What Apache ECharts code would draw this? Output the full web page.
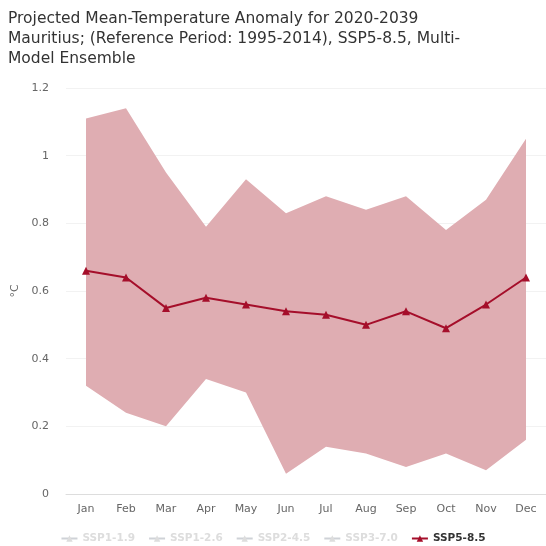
<!DOCTYPE html>
<html>
<head>
<meta charset="utf-8">
<script src="https://cdn.jsdelivr.net/npm/echarts@6/dist/echarts.min.js"></script>
<style>html,body{margin:0;padding:0;background:#fff}#c{width:546px;height:546px}</style>
</head>
<body>
<div id="c"></div>
<script>
const months = ['Jan','Feb','Mar','Apr','May','Jun','Jul','Aug','Sep','Oct','Nov','Dec'];
const meanValues = [0.66,0.64,0.55,0.58,0.56,0.54,0.53,0.50,0.54,0.49,0.56,0.64];
const upperValues = [1.11,1.14,0.95,0.79,0.93,0.83,0.88,0.84,0.88,0.78,0.87,1.05];
const lowerValues = [0.32,0.24,0.20,0.34,0.30,0.06,0.14,0.12,0.08,0.12,0.07,0.16];
const yTicks = [0,0.2,0.4,0.6,0.8,1,1.2];
const legendNames = ['SSP1-1.9','SSP1-2.6','SSP2-4.5','SSP3-7.0','SSP5-8.5'];
const titleText = 'Projected Mean-Temperature Anomaly for 2020-2039\nMauritius; (Reference Period: 1995-2014), SSP5-8.5, Multi-\nModel Ensemble';

const bandDiff = upperValues.map((u,i)=> +(u - lowerValues[i]).toFixed(3));
const font = "'Lucida Grande','DejaVu Sans',sans-serif";
const chart = echarts.init(document.getElementById('c'));
const selected = {};
legendNames.forEach(n => selected[n] = n === 'SSP5-8.5');
const lineColor = '#a50e2a';
const otherSeries = legendNames.slice(0,4).map(n => ({
  name: n, type: 'line', data: [], symbol: 'triangle', itemStyle:{color:'#ccc'}, lineStyle:{color:'#ccc'}
}));
chart.setOption({
  animation: false,
  title: {
    text: titleText, left: 3, top: 4,
    textStyle: {fontFamily: font, fontSize: 15.5, fontWeight: 'normal', color: '#333', lineHeight: 20}
  },
  legend: {
    data: legendNames,
    selected: selected,
    bottom: -3, left: 'center',
    itemWidth: 16, itemHeight: 8, itemGap: 13,
    inactiveColor: '#ddd',
    textStyle: {fontFamily: font, fontSize: 10.5, color: '#333', fontWeight: 'bold'}
  },
  grid: {left: 66, top: 88, width: 483, height: 406, containLabel: false},
  xAxis: {
    type: 'category', data: months, boundaryGap: true,
    axisLine: {lineStyle: {color: '#ddd'}},
    axisTick: {show: false},
    axisLabel: {fontFamily: font, fontSize: 11, color: '#666', margin: 10},
    splitLine: {show: false}
  },
  yAxis: {
    type: 'value', min: yTicks[0], max: yTicks[yTicks.length-1], interval: 0.2,
    name: '°C', nameLocation: 'middle', nameGap: 44, nameRotate: 90,
    nameTextStyle: {fontFamily: font, fontSize: 11, color: '#666'},
    axisLabel: {fontFamily: font, fontSize: 11, color: '#666', margin: 17,
      formatter: v => String(+v.toFixed(1))},
    axisLine: {show: false}, axisTick: {show: false},
    splitLine: {lineStyle: {color: '#f2f2f2'}}
  },
  series: [
    ...otherSeries,
    {name: 'lowerBand', type: 'line', data: lowerValues, stack: 'band', symbol: 'none',
     lineStyle: {opacity: 0}, areaStyle: {opacity: 0}, silent: true, z: 1},
    {name: 'bandRange', type: 'line', data: bandDiff, stack: 'band', symbol: 'none',
     lineStyle: {opacity: 0}, areaStyle: {color: '#dfadb2', opacity: 1}, silent: true, z: 1},
    {name: 'SSP5-8.5', type: 'line', data: meanValues, symbol: 'triangle', symbolSize: 8,
     itemStyle: {color: lineColor}, lineStyle: {color: lineColor, width: 2}, z: 3}
  ]
});
</script>
</body>
</html>
